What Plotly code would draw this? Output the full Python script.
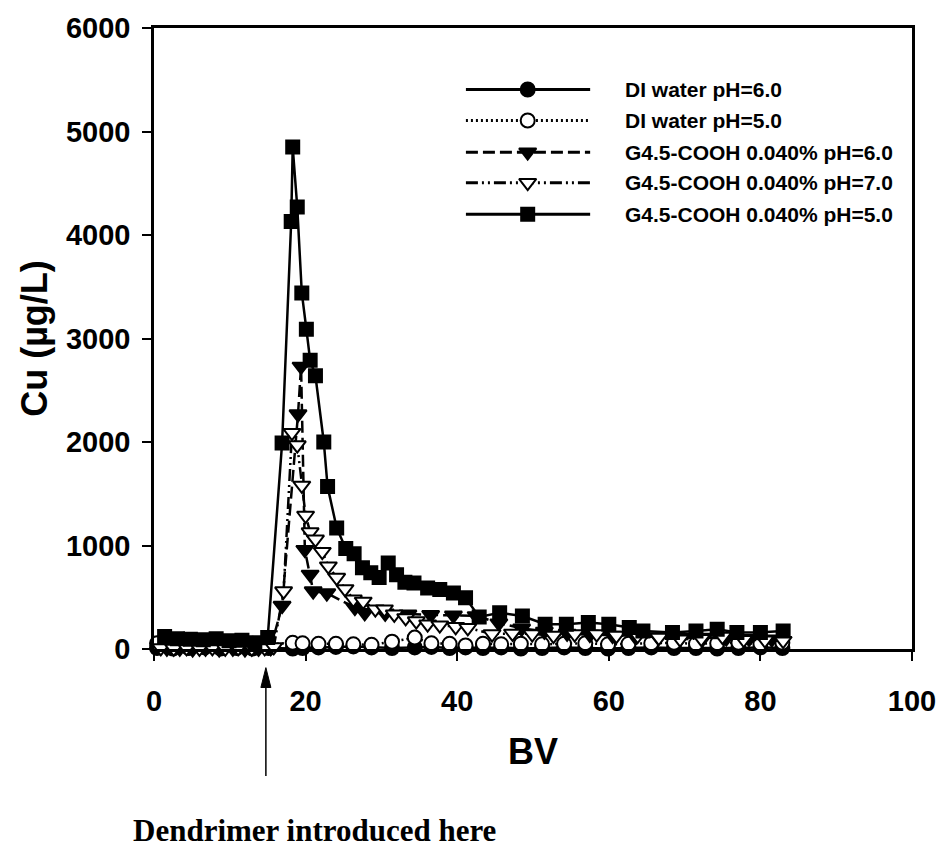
import plotly.graph_objects as go

# ---- Column effluent data: bed volumes (BV) vs Cu concentration (µg/L) ----
di60_bv = [0.4, 2.5, 4.6, 6.7, 8.8, 10.9, 13.0, 15.1, 18.3, 19.6, 21.7, 24.0, 26.3, 28.7,
           31.4, 34.4, 36.6, 39.0, 41.1, 43.4, 45.8, 48.4, 51.2, 54.1, 56.9, 59.9, 62.6,
           65.6, 68.6, 71.5, 74.3, 77.1, 80.0, 82.9]
di60_cu = [10, 5, 10, 15, 5, 10, 5, 10, 5, 10, 15, 20, 25, 15, 10, 15, 20, 10, 15, 10,
           15, 5, 10, 15, 10, 5, 10, 15, 10, 10, 5, 10, 15, 10]

di50_bv = [0.4, 2.5, 4.6, 6.7, 8.8, 10.9, 13.0, 15.1, 18.3, 19.6, 21.7, 24.0, 26.3, 28.7,
           31.4, 34.4, 36.6, 39.0, 41.1, 43.4, 45.8, 48.4, 51.2, 54.1, 56.9, 59.9, 62.6,
           65.6, 68.6, 71.5, 74.3, 77.1, 80.0, 82.9]
di50_cu = [55, 60, 55, 50, 60, 55, 50, 45, 60, 55, 50, 50, 45, 40, 70, 110, 55, 50, 35,
           50, 45, 50, 45, 50, 55, 45, 50, 55, 60, 50, 55, 60, 50, 60]

g60_bv = [1.7, 3.4, 5.1, 6.8, 8.6, 10.4, 12.0, 13.8, 15.4, 16.9, 19.0, 19.4, 19.9, 20.6,
          21.0, 22.8, 26.5, 27.8, 30.5, 33.5, 36.5, 39.5, 42.5, 45.5, 48.5, 51.5, 54.5,
          57.5, 60.5, 63.5, 66.5, 69.5, 72.5, 75.5, 78.5, 81.5]
g60_cu = [5, 5, 0, 5, 0, 5, 0, 5, 10, 420, 2270, 2730, 960, 720, 560, 540, 400, 350,
          345, 335, 330, 325, 320, 250, 200, 170, 150, 140, 130, 120, 115, 110, 110, 105,
          100, 95]

g70_bv = [0.9, 2.6, 4.3, 6.0, 7.7, 9.4, 11.1, 12.9, 14.6, 15.8, 17.1, 18.2, 18.9, 19.5,
          20.0, 20.6, 21.3, 22.2, 23.0, 24.1, 25.2, 26.3, 27.6, 29.2, 30.4, 31.7, 33.2,
          34.6, 36.1, 37.7, 39.8, 41.4, 44.6, 47.3, 49.9, 52.7, 55.5, 58.4, 61.0, 63.8,
          66.6, 69.4, 72.2, 75.0, 77.8, 80.6, 83.0]
g70_cu = [10, 5, 10, 5, 10, 5, 10, 5, 10, 20, 560, 2090, 1970, 1580, 1290, 1130, 1060,
          940, 800, 690, 580, 480, 460, 385, 385, 335, 300, 270, 240, 230, 215, 205, 145,
          150, 145, 130, 145, 145, 130, 130, 110, 95, 100, 120, 90, 85, 80]

g50_bv = [1.4, 3.1, 4.8, 6.5, 8.2, 9.9, 11.6, 13.3, 15.0, 16.9, 18.1, 18.3, 18.9, 19.5,
          20.1, 20.6, 21.3, 22.4, 22.9, 24.1, 25.3, 26.4, 27.5, 28.6, 29.7, 30.9, 32.0,
          33.1, 34.3, 36.1, 37.7, 39.5, 41.1, 42.9, 45.6, 48.6, 51.6, 54.4, 57.3, 60.0,
          62.7, 64.5, 68.4, 71.5, 74.3, 76.9, 80.0, 83.0]
g50_cu = [120, 100, 95, 90, 100, 80, 85, 60, 110, 1990, 4130, 4850, 4270, 3440, 3090,
          2790, 2640, 2000, 1570, 1170, 970, 920, 785, 737, 690, 832, 718, 644, 638, 590,
          574, 542, 494, 310, 350, 319, 239, 239, 255, 239, 207, 175, 160, 175, 191, 160,
          160, 175]

series_names = ["DI water pH=6.0", "DI water pH=5.0", "G4.5-COOH 0.040% pH=6.0",
                "G4.5-COOH 0.040% pH=7.0", "G4.5-COOH 0.040% pH=5.0"]

x_ticks = [0, 20, 40, 60, 80, 100]
y_ticks = [0, 1000, 2000, 3000, 4000, 5000, 6000]

SANS = "Liberation Sans, Arial, sans-serif"
SERIF = "Liberation Serif, Times New Roman, serif"

styles = [
    dict(symbol="circle", fill="black", size=14, dash="solid"),
    dict(symbol="circle", fill="white", size=14, dash="2px,3px"),
    dict(symbol="triangle-down", fill="black", size=15, dash="12px,5px"),
    dict(symbol="triangle-down", fill="white", size=15, dash="12px,4px,2px,4px,2px,4px"),
    dict(symbol="square", fill="black", size=13, dash="solid"),
]
data = [(di60_bv, di60_cu), (di50_bv, di50_cu), (g60_bv, g60_cu),
        (g70_bv, g70_cu), (g50_bv, g50_cu)]

fig = go.Figure()

for name, (bv, cu), st in zip(series_names, data, styles):
    fig.add_trace(go.Scatter(
        x=bv, y=cu, mode="lines+markers", name=name, showlegend=False,
        cliponaxis=False,
        line=dict(color="black", width=2.5, dash=st["dash"]),
        marker=dict(symbol=st["symbol"], size=st["size"], color=st["fill"],
                    line=dict(color="black", width=2)),
    ))

# Legend key, drawn on an overlay axis spanning the plot area (0..1)
key_rows = [0.901, 0.851, 0.800, 0.751, 0.700]
key_x0, key_x1, key_xm, key_text = 0.4115, 0.5754, 0.493, 0.619
for name, st, ry in zip(series_names, styles, key_rows):
    fig.add_trace(go.Scatter(
        x=[key_x0, key_x1], y=[ry, ry], mode="lines", xaxis="x2", yaxis="y2",
        showlegend=False, hoverinfo="skip",
        line=dict(color="black", width=3, dash=st["dash"]),
    ))
    fig.add_trace(go.Scatter(
        x=[key_xm], y=[ry], mode="markers", xaxis="x2", yaxis="y2",
        showlegend=False, hoverinfo="skip",
        marker=dict(symbol=st["symbol"], size=st["size"], color=st["fill"],
                    line=dict(color="black", width=2)),
    ))
    fig.add_annotation(x=key_text, y=ry, xref="x2", yref="y2", text=name,
                       showarrow=False, xanchor="left", yanchor="middle",
                       font=dict(family=SANS, size=21, color="black", weight="bold"))

# Arrow marking when the dendrimer solution was introduced (shaft + narrow head)
arrow_x, arrow_tip, arrow_base, arrow_tail, head_half = 0.1476, -0.030, -0.062, -0.2045, 0.0066
fig.add_shape(type="line", xref="paper", yref="paper",
              x0=arrow_x, x1=arrow_x, y0=arrow_tail, y1=arrow_base + 0.005,
              line=dict(color="black", width=1.5))
fig.add_shape(type="path", xref="paper", yref="paper",
              path=(f"M {arrow_x} {arrow_tip} L {arrow_x - head_half} {arrow_base} "
                    f"L {arrow_x + head_half} {arrow_base} Z"),
              fillcolor="black", line=dict(color="black", width=1))
fig.add_annotation(x=0.2123, y=-0.292, xref="paper", yref="paper",
                   text="Dendrimer introduced here", showarrow=False,
                   xanchor="center", yanchor="middle",
                   font=dict(family=SERIF, size=31, color="black", weight="bold"))

axis_common = dict(
    showline=True, linecolor="black", linewidth=2.5, mirror=True,
    ticks="outside", ticklen=9, tickwidth=2, tickcolor="black",
    showgrid=False, zeroline=False,
    tickfont=dict(family=SANS, size=29, color="black", weight="bold"),
)

fig.update_layout(
    width=948, height=856,
    margin=dict(l=154, r=31, t=23, b=207),
    paper_bgcolor="white", plot_bgcolor="white",
    hovermode=False,
    xaxis=dict(range=[0, 100], tickvals=x_ticks, ticklabelstandoff=15,
               title=dict(text="BV", standoff=24,
                          font=dict(family=SANS, size=36, color="black", weight="bold")),
               **axis_common),
    yaxis=dict(range=[0, 6000], tickvals=y_ticks, ticklabelstandoff=6,
               title=dict(text="Cu (µg/L)", standoff=8,
                          font=dict(family=SANS, size=36, color="black", weight="bold")),
               **axis_common),
    xaxis2=dict(overlaying="x", range=[0, 1], visible=False),
    yaxis2=dict(overlaying="y", range=[0, 1], visible=False),
)

fig.write_html("out.html")
